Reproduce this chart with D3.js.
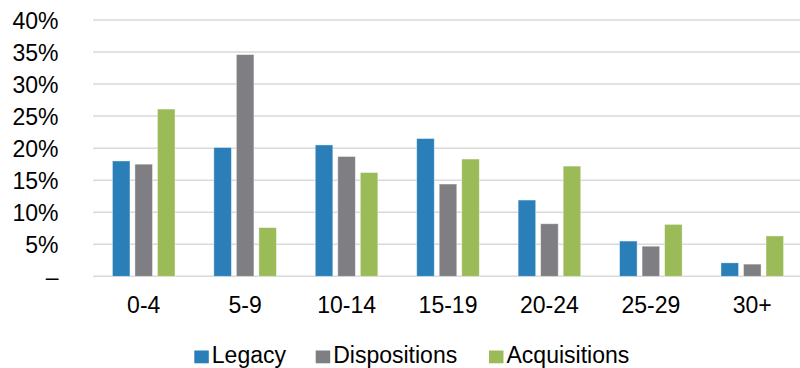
<!DOCTYPE html>
<html>
<head>
<meta charset="utf-8">
<script src="https://cdn.jsdelivr.net/npm/d3@7"></script>
<style>
  html, body { margin: 0; padding: 0; background: #fff; }
  text { font-family: "Liberation Sans", Arial, sans-serif; fill: #000; }
</style>
</head>
<body>
<svg id="chart" width="800" height="368"></svg>
<script>
const categories = ["0-4", "5-9", "10-14", "15-19", "20-24", "25-29", "30+"];
const seriesNames = ["Legacy", "Dispositions", "Acquisitions"];
const legacy = [18.0, 20.1, 20.5, 21.5, 11.9, 5.5, 2.1];
const dispositions = [17.5, 34.6, 18.7, 14.4, 8.2, 4.7, 1.9];
const acquisitions = [26.1, 7.6, 16.2, 18.3, 17.2, 8.1, 6.3];
const yTicks = [0, 5, 10, 15, 20, 25, 30, 35, 40];
const yTickLabels = ["–", "5%", "10%", "15%", "20%", "25%", "30%", "35%", "40%"];
const colors = ["#2A7FB8", "#7F7F83", "#9BBB59"];

const seriesValues = [legacy, dispositions, acquisitions];
const svg = d3.select("#chart");
const FS = 23;

const x0 = d3.scaleBand().domain(categories).range([93, 803]).padding(0);
const bw = x0.bandwidth();
const groupW = 62.6;
const x1 = d3.scaleBand().domain(seriesNames)
  .range([bw / 2 - groupW / 2, bw / 2 + groupW / 2]).paddingInner(0.22).paddingOuter(0);
const y = d3.scaleLinear().domain([0, 40]).range([276.3, 20]);

// gridlines
svg.append("g").selectAll("line").data(yTicks).join("line")
  .attr("x1", 93).attr("x2", 800)
  .attr("y1", d => y(d)).attr("y2", d => y(d))
  .attr("stroke", "#d9d9d9").attr("stroke-width", 1.5);

// y labels
const yAxis = d3.axisLeft(y).tickValues(yTicks).tickSize(0).tickPadding(0)
  .tickFormat((d, i) => yTickLabels[i]);
const gy = svg.append("g").attr("transform", "translate(58.5,0)").call(yAxis);
gy.select(".domain").remove();
gy.selectAll("text").attr("font-size", FS).attr("dy", 8.2)
  .attr("font-family", "Liberation Sans, Arial, sans-serif").attr("fill", "#000");

// bars
const groups = svg.append("g").selectAll("g").data(categories).join("g")
  .attr("transform", d => `translate(${x0(d)},0)`);
groups.selectAll("rect")
  .data((c, ci) => seriesNames.map((s, si) => ({ s, si, v: seriesValues[si][ci] })))
  .join("rect")
  .attr("x", d => x1(d.s))
  .attr("width", x1.bandwidth())
  .attr("y", d => y(d.v))
  .attr("height", d => y(0) - y(d.v))
  .attr("fill", d => colors[d.si])
  .attr("stroke", "#ffffff").attr("stroke-opacity", 0.5).attr("stroke-width", 0.8);

// x labels
const xAxis = d3.axisBottom(x0).tickSize(0).tickPadding(0);
const gx = svg.append("g").attr("transform", "translate(0,313)").call(xAxis);
gx.select(".domain").remove();
gx.selectAll("text").attr("font-size", FS).attr("dy", 0)
  .attr("font-family", "Liberation Sans, Arial, sans-serif").attr("fill", "#000");

// legend
const legendX = [194.3, 315.7, 489];
const lg = svg.append("g").selectAll("g").data(seriesNames).join("g")
  .attr("transform", (d, i) => `translate(${legendX[i]},350.5)`);
lg.append("rect").attr("width", 14.5).attr("height", 12.8).attr("fill", (d, i) => colors[i]);
lg.append("text").attr("x", 17.5).attr("y", 12.8).attr("font-size", FS).text(d => d);
</script>
</body>
</html>
